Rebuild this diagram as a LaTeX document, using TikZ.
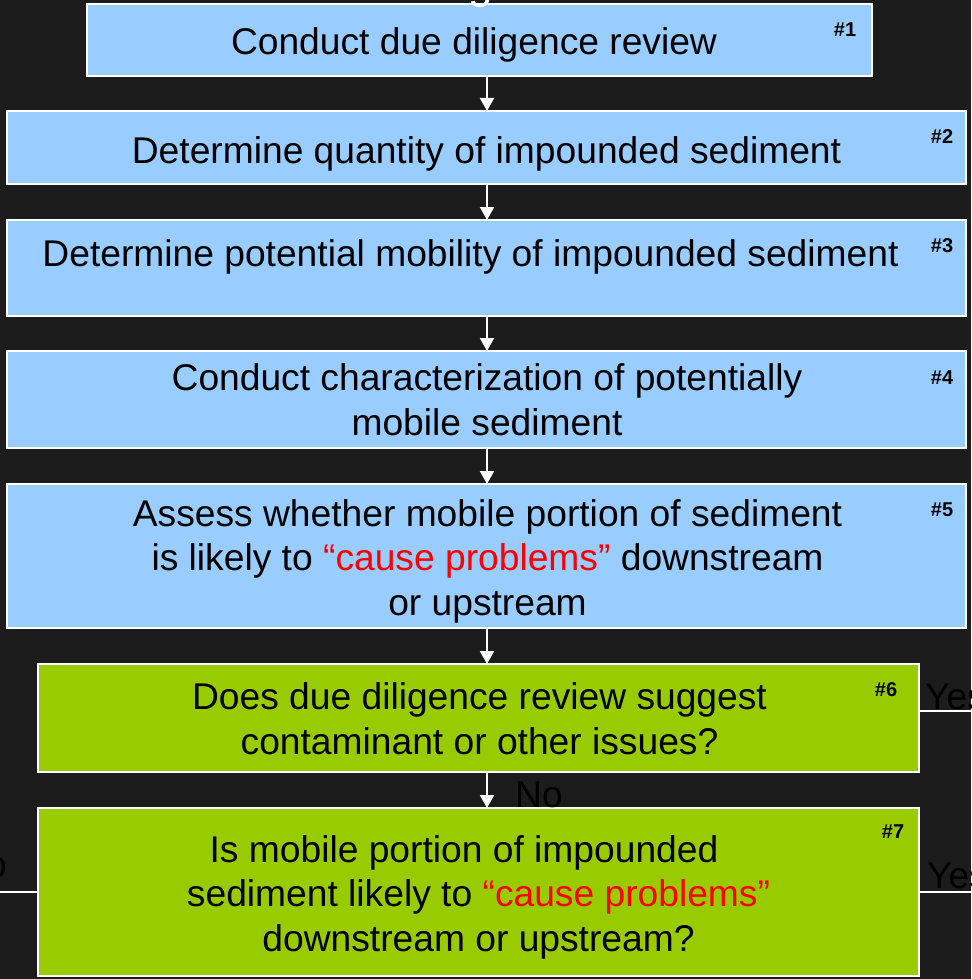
\documentclass[tikz,border=0pt]{standalone}
\usepackage{fontspec}
\setmainfont{Liberation Sans}
\usetikzlibrary{arrows.meta}
\definecolor{bgdark}{HTML}{1C1C1C}
\definecolor{boxblue}{HTML}{99CCFF}
\definecolor{boxgreen}{HTML}{99CC00}
\definecolor{probred}{HTML}{FF0000}
\begin{document}
\begin{tikzpicture}[x=1pt,y=1pt,
  basebox/.style={draw=white, line width=2pt, inner sep=0pt, outer sep=0pt},
  bluebox/.style={basebox, fill=boxblue},
  greenbox/.style={basebox, fill=boxgreen},
  boxtext/.style={font=\fontsize{37.2}{44.5}\selectfont, text=black, inner sep=0pt, align=center, anchor=base},
  numlab/.style={font=\fontsize{20}{22}\selectfont\bfseries, text=black, inner sep=0pt},
  plain/.style={font=\fontsize{37.2}{44.5}\selectfont, text=black, inner sep=0pt},
  arr/.style={draw=white, line width=2pt, -{Triangle[width=14pt,length=13pt]}},
  wline/.style={draw=white, line width=2pt}
]
\useasboundingbox (0,0) rectangle (971,-979);
\fill[bgdark] (0,0) rectangle (971,-979);
\clip (0,0) rectangle (971,-979);

% boxes
\node[bluebox, minimum width=785pt, minimum height=72pt] (b1) at (479.5,-40) {};
\node[bluebox, minimum width=959pt, minimum height=73pt] (b2) at (486.5,-147.5) {};
\node[bluebox, minimum width=959pt, minimum height=96pt] (b3) at (486.5,-268) {};
\node[bluebox, minimum width=959pt, minimum height=97pt] (b4) at (486.5,-399.5) {};
\node[bluebox, minimum width=959pt, minimum height=144pt] (b5) at (486.5,-556) {};
\node[greenbox, minimum width=881pt, minimum height=108pt] (b6) at (478.5,-718) {};
\node[greenbox, minimum width=881pt, minimum height=168pt] (b7) at (478.5,-892) {};

% box texts (anchored at the baseline of the last line)
\node[boxtext] (t1) at (474,-55) {Conduct due diligence review};
\node[boxtext] (t2) at (486.5,-163) {Determine quantity of impounded sediment};
\node[boxtext] (t3) at (470.5,-266) {Determine potential mobility of impounded sediment};
\node[boxtext] (t4) at (487,-435) {Conduct characterization of potentially\\mobile sediment};
\node[boxtext] (t5) at (487.5,-615) {Assess whether mobile portion of sediment\\is likely to {\color{probred}\textquotedblleft cause problems\textquotedblright} downstream\\or upstream};
\node[boxtext] (t6) at (479.5,-754) {Does due diligence review suggest\\contaminant or other issues?};
\node[boxtext] (t7) at (478.5,-951) {Is mobile portion of impounded\hspace*{29pt}\\sediment likely to {\color{probred}\textquotedblleft cause problems\textquotedblright}\\downstream or upstream?};

% step numbers
\node[numlab] (n1) at (845,-30) {\#1};
\node[numlab] (n2) at (942,-137) {\#2};
\node[numlab] (n3) at (942,-246) {\#3};
\node[numlab] (n4) at (942,-378) {\#4};
\node[numlab] (n5) at (942,-510) {\#5};
\node[numlab] (n6) at (886,-690) {\#6};
\node[numlab] (n7) at (893,-832) {\#7};

% arrows
\coordinate (ax) at (487,0);
\draw[arr] (b1.south -| ax) -- (b2.north -| ax);
\draw[arr] (b2.south -| ax) -- (b3.north -| ax);
\draw[arr] (b3.south -| ax) -- (b4.north -| ax);
\draw[arr] (b4.south -| ax) -- (b5.north -| ax);
\draw[arr] (b5.south -| ax) -- (b6.north -| ax);
\draw[arr] (b6.south -| ax) -- (b7.north -| ax);

% side branches
\coordinate (y6) at (0,-711);
\coordinate (e6) at (980,-711);
\coordinate (e7) at (980,-892);
\coordinate (w7) at (-10,-892);
\draw[wline] (b6.east |- y6) -- (e6);
\draw[wline] (b7.east) -- (e7);
\draw[wline] (b7.west) -- (w7);

% branch labels
\node[plain, anchor=base west] (yes6) at (925,-709) {Yes};
\node[plain, anchor=base west] (yes7) at (927,-888) {Yes};
\node[plain, anchor=base west] (no6) at (515,-807) {No};
\node[plain, anchor=base east] (no7) at (7,-877) {No};

% clipped title remnant
\node[font=\fontsize{44}{50}\selectfont, text=white, inner sep=0pt, anchor=base] (title) at (481,1) {g};
\end{tikzpicture}
\end{document}
